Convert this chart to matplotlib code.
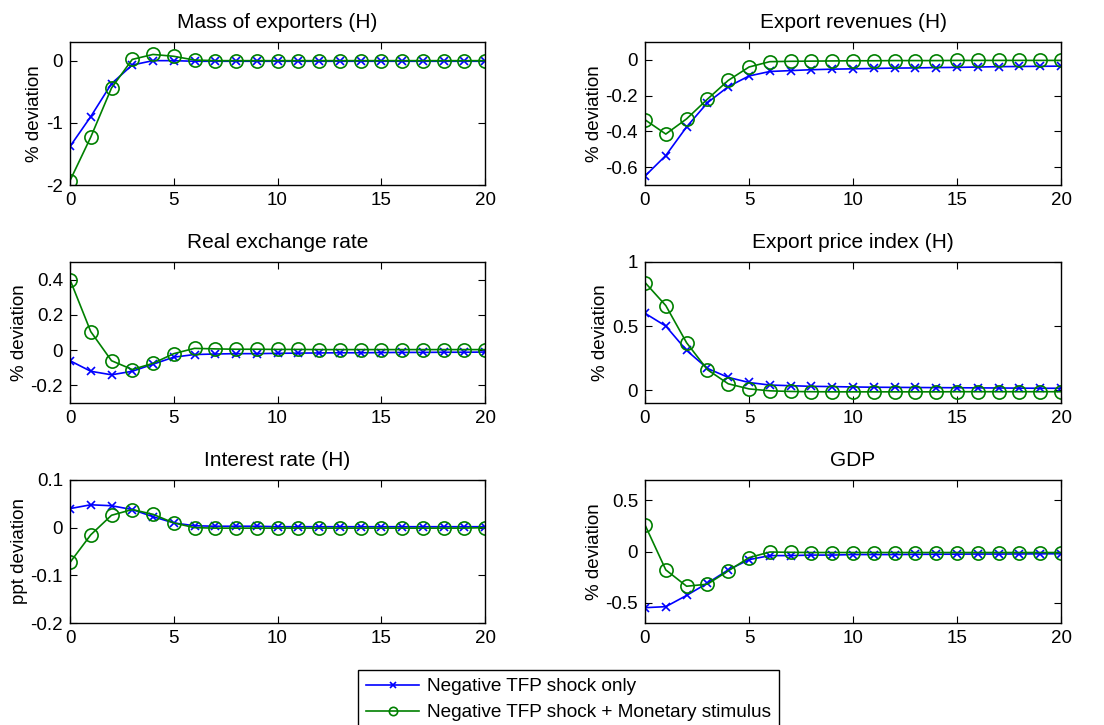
import matplotlib
matplotlib.use("Agg")
import matplotlib.pyplot as plt
from matplotlib.lines import Line2D

plt.rcParams['font.family'] = ['Liberation Sans', 'DejaVu Sans']

t = list(range(21))

titles = ["Mass of exporters (H)", "Export revenues (H)", "Real exchange rate",
          "Export price index (H)", "Interest rate (H)", "GDP"]
ylabels = ["% deviation", "% deviation", "% deviation", "% deviation", "ppt deviation", "% deviation"]

mass_tfp = [-1.38, -0.9, -0.37, -0.07, 0.0, 0.0, -0.01, -0.01, -0.01, -0.01, -0.01,
            -0.01, -0.01, -0.01, -0.01, -0.01, -0.01, -0.01, -0.01, -0.01, -0.01]
mass_mon = [-1.93, -1.23, -0.44, 0.02, 0.1, 0.07, 0.01, 0.0, 0.0, 0.0, 0.0,
            0.0, 0.0, 0.0, 0.0, 0.0, 0.0, 0.0, 0.0, 0.0, 0.0]

rev_tfp = [-0.65, -0.535, -0.375, -0.24, -0.15, -0.09, -0.065, -0.06, -0.055, -0.052, -0.05,
           -0.048, -0.046, -0.045, -0.043, -0.042, -0.04, -0.038, -0.037, -0.036, -0.035]
rev_mon = [-0.335, -0.415, -0.33, -0.22, -0.115, -0.04, -0.01, -0.008, -0.007, -0.006, -0.005,
           -0.005, -0.004, -0.004, -0.004, -0.003, -0.003, -0.003, -0.003, -0.003, -0.003]

rer_tfp = [-0.06, -0.12, -0.14, -0.12, -0.08, -0.04, -0.025, -0.022, -0.02, -0.02, -0.018,
           -0.017, -0.016, -0.015, -0.015, -0.014, -0.013, -0.013, -0.012, -0.012, -0.011]
rer_mon = [0.4, 0.105, -0.06, -0.11, -0.075, -0.02, 0.01, 0.007, 0.005, 0.005, 0.004,
           0.004, 0.003, 0.003, 0.003, 0.003, 0.003, 0.003, 0.003, 0.003, 0.003]

epi_tfp = [0.6, 0.5, 0.31, 0.17, 0.1, 0.06, 0.04, 0.035, 0.03, 0.028, 0.025,
           0.023, 0.022, 0.021, 0.02, 0.019, 0.018, 0.017, 0.016, 0.015, 0.015]
epi_mon = [0.84, 0.66, 0.37, 0.16, 0.05, 0.01, -0.005, -0.01, -0.012, -0.013, -0.013,
           -0.013, -0.013, -0.013, -0.013, -0.012, -0.012, -0.012, -0.012, -0.012, -0.012]

int_tfp = [0.04, 0.048, 0.046, 0.038, 0.023, 0.01, 0.004, 0.003, 0.003, 0.003, 0.002,
           0.002, 0.002, 0.002, 0.002, 0.002, 0.002, 0.002, 0.002, 0.002, 0.002]
int_mon = [-0.073, -0.015, 0.026, 0.038, 0.028, 0.01, 0.0, -0.001, -0.001, -0.001, -0.001,
           -0.001, -0.001, -0.001, -0.001, -0.001, -0.001, -0.001, -0.001, -0.001, 0.0]

gdp_tfp = [-0.55, -0.54, -0.43, -0.31, -0.18, -0.08, -0.04, -0.04, -0.035, -0.035, -0.03,
           -0.03, -0.03, -0.028, -0.027, -0.026, -0.025, -0.025, -0.024, -0.023, -0.022]
gdp_mon = [0.26, -0.18, -0.34, -0.32, -0.19, -0.06, -0.005, -0.008, -0.01, -0.01, -0.01,
           -0.01, -0.01, -0.01, -0.01, -0.01, -0.01, -0.01, -0.01, -0.01, -0.01]

series_tfp = [mass_tfp, rev_tfp, rer_tfp, epi_tfp, int_tfp, gdp_tfp]
series_mon = [mass_mon, rev_mon, rer_mon, epi_mon, int_mon, gdp_mon]

ylims = [(-2, 0.3), (-0.7, 0.1), (-0.3, 0.5), (-0.1, 1), (-0.2, 0.1), (-0.7, 0.7)]
yticks = [[-2, -1, 0], [-0.6, -0.4, -0.2, 0], [-0.2, 0, 0.2, 0.4], [0, 0.5, 1],
          [-0.2, -0.1, 0, 0.1], [-0.5, 0, 0.5]]
yticklabels = [["-2", "-1", "0"], ["-0.6", "-0.4", "-0.2", "0"], ["-0.2", "0", "0.2", "0.4"],
               ["0", "0.5", "1"], ["-0.2", "-0.1", "0", "0.1"], ["-0.5", "0", "0.5"]]
xticks = [0, 5, 10, 15, 20]

legend_labels = ["Negative TFP shock only", "Negative TFP shock + Monetary stimulus"]

BLUE = '#0000ff'
GREEN = '#008000'

W, H = 1104, 725
fig = plt.figure(figsize=(W / 100, H / 100), dpi=100)

lefts = [70, 645]
rights = [485, 1061]
tops = [42, 262, 480]
bottoms = [185, 403, 623]

FS = 13.5

for i in range(6):
    r, c = divmod(i, 2)
    x0 = lefts[c] / W
    w = (rights[c] - lefts[c]) / W
    y0 = 1 - bottoms[r] / H
    h = (bottoms[r] - tops[r]) / H
    ax = fig.add_axes([x0, y0, w, h])
    ax.plot(t, series_tfp[i], color=BLUE, marker='x', markersize=6,
            markeredgewidth=1.2, linewidth=1.2)
    ax.plot(t, series_mon[i], color=GREEN, marker='o', markersize=9.5,
            markerfacecolor='none', markeredgewidth=1.2, linewidth=1.2)
    ax.set_xlim(0, 20)
    ax.set_ylim(*ylims[i])
    ax.set_xticks(xticks)
    ax.set_yticks(yticks[i])
    ax.set_yticklabels(yticklabels[i])
    ax.tick_params(direction='in', top=True, right=True, labelsize=FS, length=5, pad=5)
    ax.set_title(titles[i], fontsize=15, pad=10)
    ax.set_ylabel(ylabels[i], fontsize=FS, labelpad=2)
    for s in ax.spines.values():
        s.set_linewidth(1.0)

handles = [Line2D([], [], color=BLUE, marker='x', markersize=5, markeredgewidth=1.2, linewidth=1.2),
           Line2D([], [], color=GREEN, marker='o', markersize=6, markerfacecolor='none',
                  markeredgewidth=1.2, linewidth=1.2)]
leg = fig.legend(handles, legend_labels, loc='upper left',
                 bbox_to_anchor=(358 / W, 1 - 670 / H), fontsize=13.7,
                 frameon=True, fancybox=False, edgecolor='black', framealpha=1,
                 borderpad=0.42, labelspacing=0.45, handlelength=2.8, handletextpad=0.4,
                 borderaxespad=0)
leg.get_frame().set_linewidth(1.0)

fig.savefig("out.png", dpi=100)
